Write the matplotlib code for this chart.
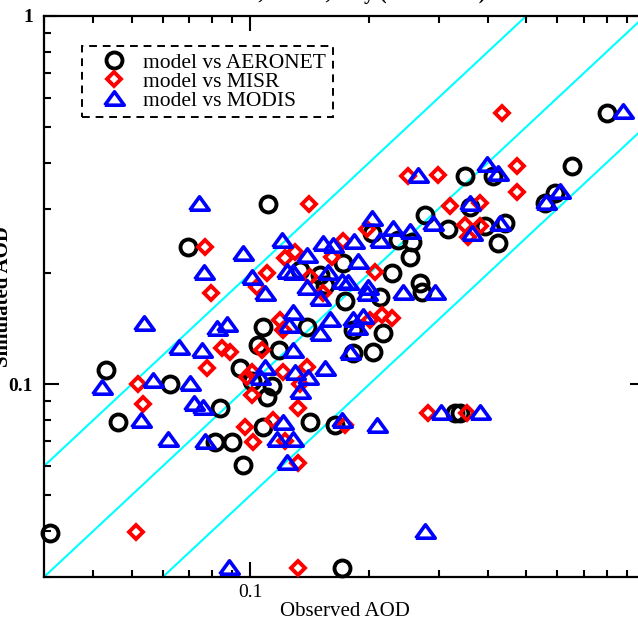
import matplotlib
matplotlib.use('Agg')
import matplotlib.pyplot as plt
import numpy as np
from matplotlib.ticker import NullFormatter, LogLocator

plt.rcParams['font.family'] = ['Liberation Serif', 'DejaVu Serif']

# observed / simulated AOD pairs
aeronet_obs = [0.0310, 0.0430, 0.0461, 0.0627, 0.0839, 0.0815, 0.0900, 0.0960, 0.0943, 0.0697,
               0.1111, 0.1338, 0.2035, 0.2770, 0.2571, 0.2367, 0.2541, 0.3170, 0.2286, 0.1719,
               0.1503, 0.1548, 0.2132, 0.2690, 0.2722, 0.1739, 0.2170, 0.1079, 0.1394, 0.1822,
               0.1048, 0.1185, 0.1822, 0.2047, 0.1012, 0.1137, 0.1104, 0.1079, 0.1418, 0.1642,
               0.3302, 0.3399, 0.1709, 0.8000, 0.6521, 0.4119, 0.3500, 0.3603, 0.5904, 0.5570,
               0.3932, 0.4418, 0.4240]
aeronet_sim = [0.0396, 0.1091, 0.0788, 0.1000, 0.0861, 0.0696, 0.0696, 0.0606, 0.1105, 0.2357,
               0.3085, 0.2041, 0.2572, 0.2879, 0.2431, 0.2462, 0.2213, 0.2638, 0.2003, 0.2132,
               0.1978, 0.1858, 0.1723, 0.1881, 0.1778, 0.1680, 0.1376, 0.1429, 0.1429, 0.1402,
               0.1276, 0.1237, 0.1214, 0.1222, 0.1019, 0.0988, 0.0922, 0.0764, 0.0788, 0.0774,
               0.0834, 0.0834, 0.0318, 0.5450, 0.3912, 0.3675, 0.3675, 0.3027, 0.3304, 0.3104,
               0.2687, 0.2738, 0.2416]

misr_obs = [0.0512, 0.0518, 0.0536, 0.0778, 0.0849, 0.0890, 0.0769, 0.0796, 0.1410, 0.1104,
            0.1042, 0.1226, 0.1300, 0.1719, 0.1977, 0.2512, 0.2990, 0.3207, 0.2071, 0.1613,
            0.1418, 0.1530, 0.2012, 0.2157, 0.2286, 0.1191, 0.1212, 0.1073, 0.0983, 0.1212,
            0.1394, 0.1338, 0.1012, 0.1012, 0.1323, 0.0971, 0.1144, 0.1739, 0.2819, 0.3541,
            0.1018, 0.1226, 0.1323, 0.1323, 0.4340, 0.4730, 0.4730, 0.3819, 0.3500, 0.3819,
            0.3562]
misr_sim = [0.0398, 0.1000, 0.0882, 0.1105, 0.1253, 0.1222, 0.2357, 0.1767, 0.3085, 0.2003,
            0.1835, 0.2199, 0.2284, 0.2446, 0.2638, 0.3675, 0.3698, 0.3046, 0.2015, 0.2213,
            0.1953, 0.1767, 0.1493, 0.1540, 0.1511, 0.1493, 0.1402, 0.1237, 0.1045, 0.1078,
            0.1112, 0.1000, 0.1078, 0.0934, 0.0861, 0.0764, 0.0798, 0.0774, 0.0834, 0.0834,
            0.0696, 0.0700, 0.0610, 0.0318, 0.5450, 0.3912, 0.3325, 0.3104, 0.2704, 0.2687,
            0.2508]

modis_obs = [0.0420, 0.0568, 0.0705, 0.0658, 0.0756, 0.0718, 0.0760, 0.0527, 0.0617, 0.0769,
             0.0884, 0.0739, 0.0765, 0.0539, 0.0825, 0.0874, 0.0960, 0.1205, 0.1012, 0.1091,
             0.1241, 0.1285, 0.1394, 0.1530, 0.1622, 0.1832, 0.2035, 0.2132, 0.2299, 0.2541,
             0.2659, 0.2903, 0.1876, 0.1576, 0.1709, 0.1769, 0.1394, 0.1503, 0.1988, 0.1977,
             0.2438, 0.2940, 0.1285, 0.1594, 0.1822, 0.1932, 0.1865, 0.1255, 0.1503, 0.1285,
             0.1790, 0.1060, 0.1300, 0.1402, 0.1548, 0.1091, 0.1338, 0.1212, 0.1709, 0.2095,
             0.3043, 0.3819, 0.1171, 0.1285, 0.1241, 0.2770, 0.8780, 0.3978, 0.4240, 0.3603,
             0.6079, 0.5602, 0.3646, 0.4290]
modis_sim = [0.0983, 0.1025, 0.1006, 0.1260, 0.1237, 0.0888, 0.0866, 0.0798, 0.0713, 0.0704,
             0.0320, 0.3104, 0.2015, 0.1464, 0.1420, 0.1455, 0.2270, 0.2462, 0.1953, 0.1767,
             0.2028, 0.2015, 0.2241, 0.2416, 0.2386, 0.2446, 0.2826, 0.2462, 0.2654, 0.2605,
             0.3698, 0.2738, 0.2159, 0.2015, 0.1905, 0.1893, 0.1835, 0.1712, 0.1835, 0.1767,
             0.1778, 0.1778, 0.1569, 0.1502, 0.1502, 0.1530, 0.1429, 0.1447, 0.1376, 0.1237,
             0.1222, 0.1045, 0.1078, 0.1045, 0.1105, 0.1112, 0.0957, 0.0788, 0.0798, 0.0774,
             0.0839, 0.0839, 0.0713, 0.0713, 0.0614, 0.0401, 0.5518, 0.3962, 0.3744, 0.3104,
             0.3346, 0.3124, 0.2572, 0.2738]

ratios = [0.5, 1.0, 2.0]
ref = np.array([0.01, 2.0])

# flat IDL-like triangle symbol
tri = [(-1, -0.69), (1, -0.69), (0, 0.69), (-1, -0.69)]

fig = plt.figure(figsize=(6.38, 6.21), dpi=100)
ax = fig.add_axes([44 / 638, 44 / 621, 601 / 638, 561 / 621])
ax.set_xscale('log')
ax.set_yscale('log')
ax.set_xlim(0.03, 1)
ax.set_ylim(0.03, 1)

for r in ratios:
    ax.plot(ref, r * ref, color='cyan', lw=1.5, zorder=1)

ax.plot(aeronet_obs, aeronet_sim, ls='none', marker='o', mfc='none', mec='black',
        ms=11.5, mew=2.8, clip_on=False, label='model vs AERONET', zorder=3)
ax.plot(misr_obs, misr_sim, ls='none', marker='D', mfc='none', mec='red',
        ms=7.5, mew=2.8, clip_on=False, label='model vs MISR', zorder=4)
ax.plot(modis_obs, modis_sim, ls='none', marker=tri, mfc='none', mec='blue',
        ms=14, mew=2.6, clip_on=False, label='model vs MODIS', zorder=5)

ax.set_xticks([0.1, 1])
ax.set_xticklabels(['0.1', ''])
ax.set_yticks([0.1, 1])
ax.set_yticklabels(['0.1', '1'], fontweight='bold')
for axis in (ax.xaxis, ax.yaxis):
    axis.set_minor_locator(LogLocator(base=10, subs=np.arange(2, 10)))
    axis.set_minor_formatter(NullFormatter())
ax.tick_params(which='both', direction='in', top=True, right=True, width=1.5,
               labelsize=14, pad=5)
ax.tick_params(axis='y', pad=8)
ax.tick_params(which='major', length=11)
ax.tick_params(which='minor', length=5)
for s in ax.spines.values():
    s.set_linewidth(1.6)

ax.set_xlabel('Observed AOD', fontsize=15, labelpad=1)
ax.set_ylabel('Simulated AOD', fontsize=15, fontweight='bold')
ax.yaxis.set_label_coords(-0.052, 0.5)

leg = ax.legend(loc='upper left', bbox_to_anchor=(0.0632, 0.9465), borderaxespad=0,
                fancybox=False, edgecolor='black', framealpha=1, prop={'size': 15.5},
                handlelength=2.4, handletextpad=0.15, labelspacing=-0.05, borderpad=0.3,
                numpoints=1)
leg.get_frame().set_linestyle((0, (4, 3)))
leg.get_frame().set_linewidth(1.4)

fig.text(0.54, 1 + 1 / 621, 'China, Model, July (2008 AOD)', ha='center', va='baseline',
         fontsize=15, fontweight='bold')

fig.savefig('out.png', dpi=100)
